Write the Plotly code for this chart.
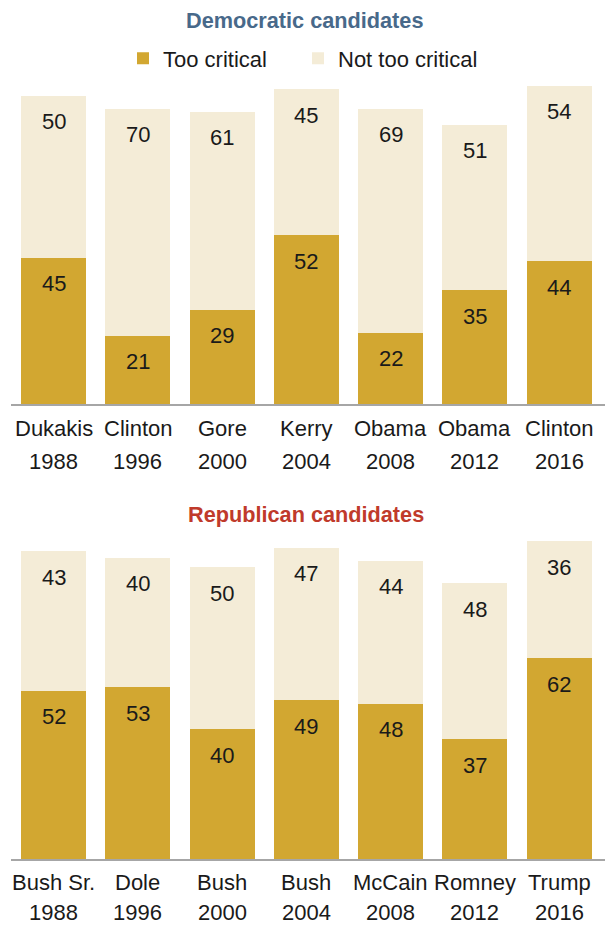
import plotly.graph_objects as go

# ---- data ----
dem_names = ["Dukakis", "Clinton", "Gore", "Kerry", "Obama", "Obama", "Clinton"]
dem_years = ["1988", "1996", "2000", "2004", "2008", "2012", "2016"]
dem_too = [45, 21, 29, 52, 22, 35, 44]
dem_not = [50, 70, 61, 45, 69, 51, 54]

rep_names = ["Bush Sr.", "Dole", "Bush", "Bush", "McCain", "Romney", "Trump"]
rep_years = ["1988", "1996", "2000", "2004", "2008", "2012", "2016"]
rep_too = [52, 53, 40, 49, 48, 37, 62]
rep_not = [43, 40, 50, 47, 44, 48, 36]

series_names = ["Too critical", "Not too critical"]
titles = ["Democratic candidates", "Republican candidates"]

# ---- style ----
GOLD = "#D2A731"
CREAM = "#F4ECD7"
BLUE = "#48698A"
RED = "#C03A2B"
TXT = "#1a1a1a"
FONT = "Liberation Sans, Arial, sans-serif"
FS = 22

W, H = 605, 926
fig = go.Figure()

panels = [
    dict(names=dem_names, years=dem_years, too=dem_too, nt=dem_not, xa="x", ya="y", legend=True,
         nm_shift=-24, yr_shift=-57),
    dict(names=rep_names, years=rep_years, too=rep_too, nt=rep_not, xa="x2", ya="y2", legend=False,
         nm_shift=-23, yr_shift=-53),
]

annotations = []
for p in panels:
    cats = [f"{n} {y}" for n, y in zip(p["names"], p["years"])]
    fig.add_trace(go.Bar(x=cats, y=p["too"], name=series_names[0], marker=dict(color=GOLD, line=dict(width=0)),
                         xaxis=p["xa"], yaxis=p["ya"], showlegend=p["legend"], legend="legend",
                         hoverinfo="skip"))
    fig.add_trace(go.Bar(x=cats, y=p["nt"], name=series_names[1], marker=dict(color=CREAM, line=dict(width=0)),
                         xaxis=p["xa"], yaxis=p["ya"], showlegend=p["legend"], legend="legend2",
                         hoverinfo="skip"))
    for c, n, yr, t, v in zip(cats, p["names"], p["years"], p["too"], p["nt"]):
        common = dict(xref=p["xa"], yref=p["ya"], showarrow=False, x=c,
                      font=dict(family=FONT, size=FS, color=TXT), yanchor="middle", xanchor="center")
        annotations.append(dict(common, y=t, yshift=-26, text=str(t)))
        annotations.append(dict(common, y=t + v, yshift=-26, text=str(v)))
        annotations.append(dict(common, y=0, yshift=p["nm_shift"], text=n))
        annotations.append(dict(common, y=0, yshift=p["yr_shift"], text=yr))

annotations.append(dict(xref="paper", yref="paper", x=304 / W, y=1 - 20 / H, showarrow=False,
                        text="<b>" + titles[0] + "</b>", font=dict(family=FONT, size=21.7, color=BLUE),
                        xanchor="center", yanchor="middle"))
annotations.append(dict(xref="paper", yref="paper", x=306 / W, y=1 - 514.5 / H, showarrow=False,
                        text="<b>" + titles[1] + "</b>", font=dict(family=FONT, size=21.7, color=RED),
                        xanchor="center", yanchor="middle"))

xdom = [11.4 / W, 1.0]
xr = [-0.5, 6.544]
ax_common = dict(range=xr, domain=xdom, showticklabels=False, ticks="", showgrid=False, zeroline=False,
                 showline=True, linecolor="#A6A6A6", linewidth=2, fixedrange=True)
ya_common = dict(range=[0, 100], showticklabels=False, ticks="", showgrid=False, zeroline=False,
                 showline=False, fixedrange=True)

leg_common = dict(orientation="h", xanchor="left", y=1 - 58.5 / H, yanchor="middle",
                  font=dict(family=FONT, size=FS, color=TXT), bgcolor="rgba(0,0,0,0)")

fig.update_layout(
    width=W, height=H, margin=dict(l=0, r=0, t=0, b=0),
    paper_bgcolor="white", plot_bgcolor="white",
    barmode="stack", bargap=0.229,
    font=dict(family=FONT, size=FS, color=TXT),
    xaxis=dict(ax_common, anchor="y"),
    yaxis=dict(ya_common, domain=[(H - 404) / H, (H - 79.5) / H], anchor="x"),
    xaxis2=dict(ax_common, anchor="y2"),
    yaxis2=dict(ya_common, domain=[(H - 859.3) / H, (H - 534.8) / H], anchor="x2"),
    showlegend=True,
    legend=dict(leg_common, x=123 / W),
    legend2=dict(leg_common, x=298 / W),
    annotations=annotations,
)

fig.write_html("out.html")
